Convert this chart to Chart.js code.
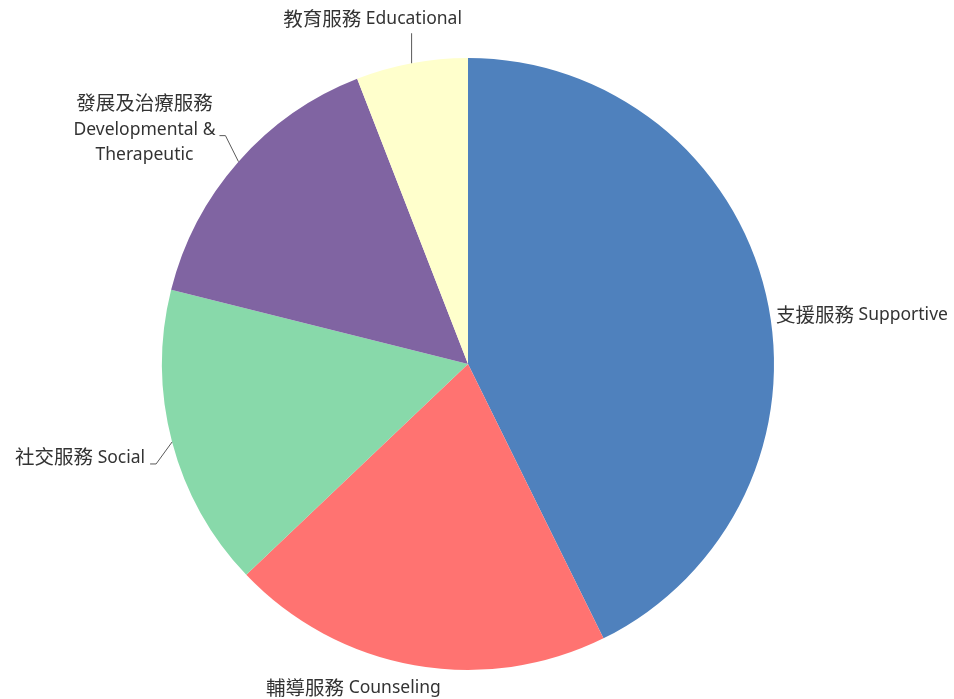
<!DOCTYPE html>
<html>
<head>
<meta charset="utf-8">
<script src="https://cdn.jsdelivr.net/npm/chart.js@4"></script>
<style>
  body { margin: 0; background: #fff; }
  #wrap { width: 954px; height: 699px; }
</style>
</head>
<body>
<div id="wrap"><canvas id="pie"></canvas></div>
<script>
// slice data, clockwise from 12 o'clock
const labelsZh = ['支援服務', '輔導服務', '社交服務', '發展及治療服務', '教育服務'];
const labelsEn = ['Supportive', 'Counseling', 'Social', ['Developmental &', 'Therapeutic'], 'Educational'];
const shares = [42.7, 20.2, 16.0, 15.2, 5.9];
const sliceColors = ['#4F81BD', '#FF7371', '#88D9AA', '#8064A2', '#FFFFCC'];

// label placement relative to the point where the slice's mid angle meets the rim
const labelLayout = [
  { dx: 10, dy: 20, align: 'left', leader: null },
  { dx: -61, dy: 22, align: 'center', leader: null },
  { dx: -27, dy: 15, align: 'right', leader: [[-16, 22], [-22, 22]] },
  { dx: -94, dy: -59, align: 'stack', leader: [[-13, -26], [-19, -26]] },
  { dx: -39, dy: -45, align: 'center', leader: [[0, -30]] },
];

const zhFont = "19.5px 'Noto Sans CJK TC'";
const enFont = "17.5px 'Noto Sans', 'Noto Sans CJK TC'";
const textColor = '#333333';

const sliceLabels = {
  id: 'sliceLabels',
  afterDraw(chart) {
    const ctx = chart.ctx;
    const arcs = chart.getDatasetMeta(0).data;
    ctx.save();
    arcs.forEach((arc, i) => {
      const mid = (arc.startAngle + arc.endAngle) / 2;
      const ex = arc.x + Math.cos(mid) * arc.outerRadius;
      const ey = arc.y + Math.sin(mid) * arc.outerRadius;
      const lay = labelLayout[i];

      // leader line
      if (lay.leader) {
        ctx.strokeStyle = '#595959';
        ctx.lineWidth = 1;
        ctx.beginPath();
        ctx.moveTo(ex, ey);
        lay.leader.forEach(p => ctx.lineTo(ex + p[0], ey + p[1]));
        ctx.stroke();
      }

      ctx.fillStyle = textColor;
      ctx.textBaseline = 'middle';
      const tx = ex + lay.dx;
      const ty = ey + lay.dy;

      if (lay.align === 'stack') {
        ctx.textAlign = 'center';
        ctx.font = zhFont;
        ctx.fillText(labelsZh[i], tx, ty);
        ctx.font = enFont;
        labelsEn[i].forEach((line, k) => ctx.fillText(line, tx, ty + 27 + k * 25));
        return;
      }

      ctx.textAlign = 'left';
      ctx.font = zhFont;
      const zhW = ctx.measureText(labelsZh[i]).width;
      ctx.font = enFont;
      const gap = ctx.measureText(' ').width;
      const enW = ctx.measureText(labelsEn[i]).width;
      const total = zhW + gap + enW;
      let x0 = tx;
      if (lay.align === 'center') x0 = tx - total / 2;
      if (lay.align === 'right') x0 = tx - total;
      ctx.font = zhFont;
      ctx.fillText(labelsZh[i], x0, ty);
      ctx.font = enFont;
      ctx.fillText(labelsEn[i], x0 + zhW + gap, ty + 1);
    });
    ctx.restore();
  }
};

new Chart(document.getElementById('pie'), {
  type: 'pie',
  data: {
    labels: labelsZh.map((z, i) => z + ' ' + [].concat(labelsEn[i]).join(' ')),
    datasets: [{
      data: shares,
      backgroundColor: sliceColors,
      borderWidth: 0,
      hoverOffset: 0,
    }],
  },
  options: {
    responsive: true,
    maintainAspectRatio: false,
    animation: false,
    layout: { padding: { top: 58, bottom: 29, left: 162, right: 180 } },
    plugins: {
      legend: { display: false },
      tooltip: { enabled: false },
    },
  },
  plugins: [sliceLabels],
});
</script>
</body>
</html>
